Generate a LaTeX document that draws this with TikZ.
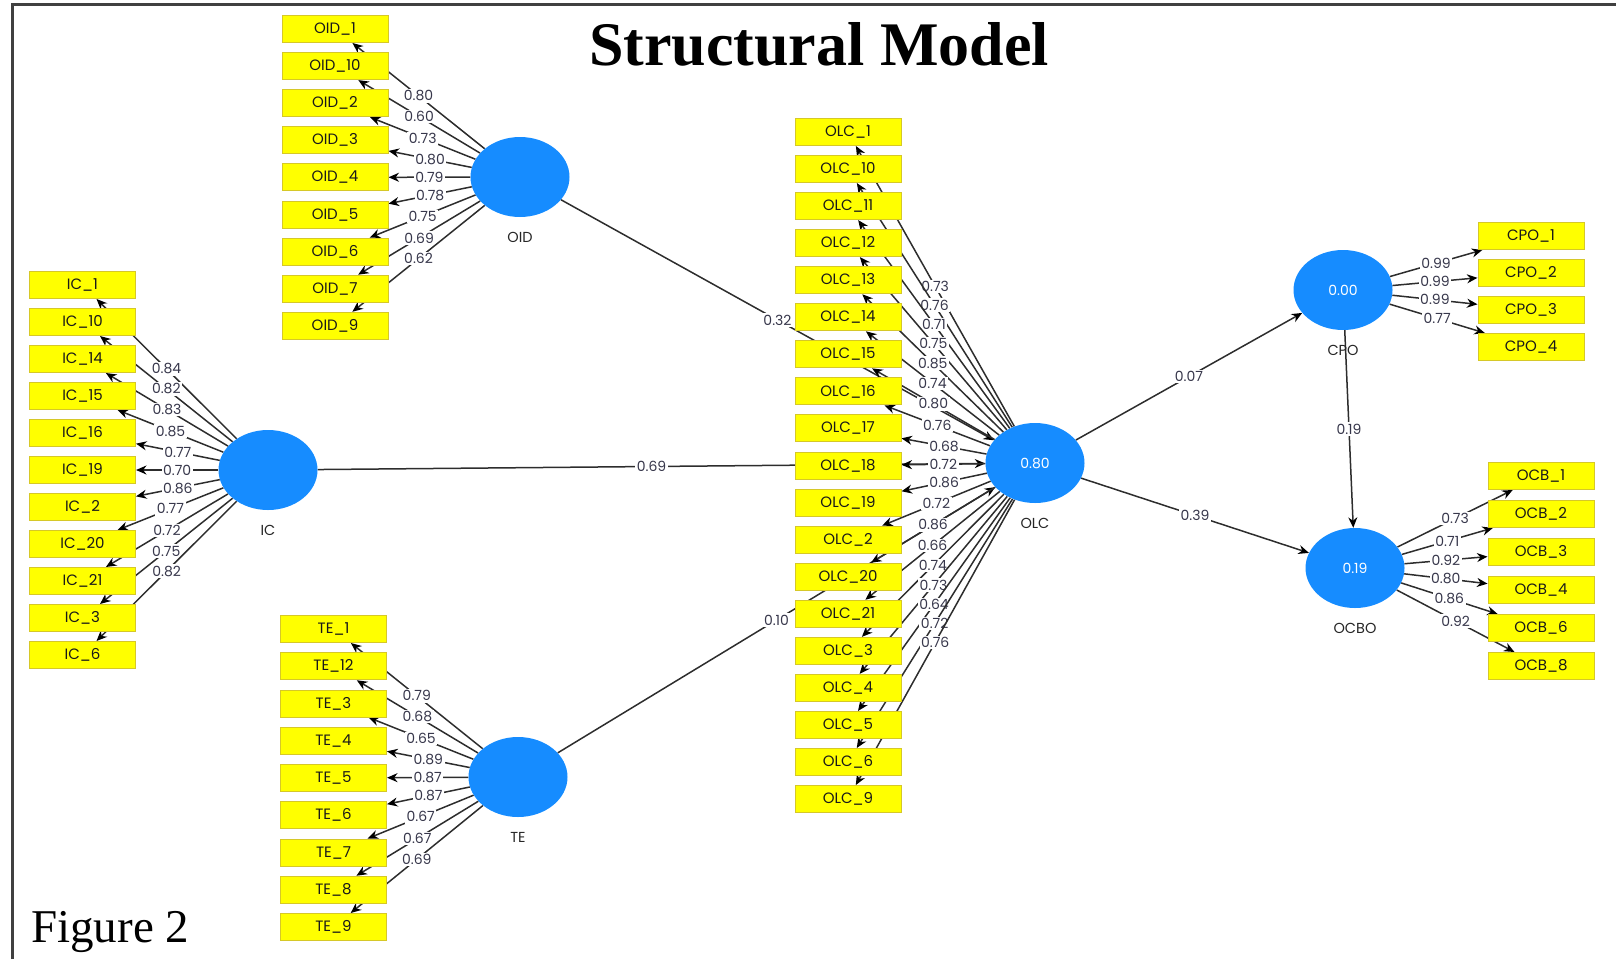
\documentclass[tikz,border=0pt]{standalone}
\usepackage{fontspec}
\setmainfont{Liberation Serif}
\newfontfamily\pfont{Poppins}
\usetikzlibrary{arrows.meta,shapes.geometric,backgrounds,positioning}
\definecolor{indyellow}{RGB}{255,255,0}
\definecolor{indborder}{RGB}{214,200,40}
\definecolor{latblue}{RGB}{22,140,255}
\definecolor{edgegray}{RGB}{45,45,45}
\definecolor{labgray}{RGB}{55,55,75}
\tikzset{
  indbox/.style={draw=indborder, fill=indyellow, line width=1pt, minimum width=106pt,
    minimum height=27pt, inner sep=0pt, text=black!90, font=\pfont\fontsize{15}{15}\selectfont},
  latent/.style={ellipse, fill=latblue, minimum width=99pt, minimum height=80pt,
    inner sep=0pt, text=white, font=\pfont\fontsize{14}{14}\selectfont},
  latname/.style={inner sep=0pt, text=black!85, font=\pfont\fontsize{14.5}{14.5}\selectfont},
  loadlab/.style={fill=white, inner sep=1.5pt, text=labgray, font=\pfont\fontsize{14}{14}\selectfont},
  arr/.style={draw=edgegray, line width=1.5pt, -{Stealth[length=10.5pt, width=9pt, color=black]}}
}

\begin{document}
\begin{tikzpicture}[x=1pt, y=-1pt]
    \useasboundingbox (0,0) rectangle (1616,959);
    % 结构模型
    \draw[line width=3pt, black!75] (12,959) -- (12,4) -- (1616,4);
    \node[anchor=base, font=\bfseries\fontsize{62}{62}\selectfont] (title) at (819,65) {Structural Model};
    \node[anchor=base west, inner sep=0pt, font=\fontsize{47}{47}\selectfont] (fig) at (31,942) {Figure 2};

    % 潜变量
    \node[latent] (OID) at (520,177) {};
    \node[latent] (IC) at (268,470) {};
    \node[latent] (TE) at (518,777) {};
    \node[latent] (OLC) at (1035,463) {0.80};
    \node[latent] (CPO) at (1343,290) {0.00};
    \node[latent] (OCBO) at (1355,568) {0.19};
    \node[latname, below=15pt of OID] (OIDname) {OID};
    \node[latname, below=15pt of IC] (ICname) {IC};
    \node[latname, below=15pt of TE] (TEname) {TE};
    \node[latname, below=15pt of OLC] (OLCname) {OLC};
    \node[latname, below=15pt of CPO] (CPOname) {CPO};
    \node[latname, below=15pt of OCBO] (OCBOname) {OCBO};

    % 路径系数
    \begin{scope}[on background layer]
        \draw[arr] (OID) -- (OLC) node[loadlab, midway] {0.32};
        \draw[arr] (IC) -- (OLC) node[loadlab, midway] {0.69};
        \draw[arr] (TE) -- (OLC) node[loadlab, midway] {0.10};
        \draw[arr] (OLC) -- (CPO) node[loadlab, midway] {0.07};
        \draw[arr] (OLC) -- (OCBO) node[loadlab, midway] {0.39};
        \draw[arr] (CPO) -- (OCBO) node[loadlab, midway] {0.19};
    \end{scope}

    % 测量指标与载荷
    \foreach \nm/\ld [count=\k from 0] in {1/0.80,10/0.60,2/0.73,3/0.80,4/0.79,5/0.78,6/0.75,7/0.69,9/0.62} {
        \node[indbox] (oid\nm) at (335,29+37.1*\k) {OID\_\nm};
        \begin{pgfonlayer}{background}
            \draw[arr] (OID) -- (oid\nm) node[loadlab, midway] {\ld};
        \end{pgfonlayer}
    }
    \foreach \nm/\ld [count=\k from 0] in {1/0.84,10/0.82,14/0.83,15/0.85,16/0.77,19/0.70,2/0.86,20/0.77,21/0.72,3/0.75,6/0.82} {
        \node[indbox] (ic\nm) at (82.5,285+37*\k) {IC\_\nm};
        \begin{pgfonlayer}{background}
            \draw[arr] (IC) -- (ic\nm) node[loadlab, midway] {\ld};
        \end{pgfonlayer}
    }
    \foreach \nm/\ld [count=\k from 0] in {1/0.79,12/0.68,3/0.65,4/0.89,5/0.87,6/0.87,7/0.67,8/0.67,9/0.69} {
        \node[indbox] (te\nm) at (333.5,629+37.25*\k) {TE\_\nm};
        \begin{pgfonlayer}{background}
            \draw[arr] (TE) -- (te\nm) node[loadlab, midway] {\ld};
        \end{pgfonlayer}
    }
    \foreach \nm/\ld [count=\k from 0] in {1/0.73,10/0.76,11/0.71,12/0.75,13/0.85,14/0.74,15/0.80,16/0.76,17/0.68,18/0.72,
                                           19/0.86,2/0.72,20/0.86,21/0.66,3/0.74,4/0.73,5/0.64,6/0.72,9/0.76} {
        \node[indbox] (olc\nm) at (848,132+37.06*\k) {OLC\_\nm};
        \begin{pgfonlayer}{background}
            \draw[arr] (OLC) -- (olc\nm) node[loadlab, midway] {\ld};
        \end{pgfonlayer}
    }
    \foreach \nm/\ld [count=\k from 0] in {1/0.99,2/0.99,3/0.99,4/0.77} {
        \node[indbox] (cpo\nm) at (1531,236+37*\k) {CPO\_\nm};
        \begin{pgfonlayer}{background}
            \draw[arr] (CPO) -- (cpo\nm) node[loadlab, midway] {\ld};
        \end{pgfonlayer}
    }
    \foreach \nm/\ld [count=\k from 0] in {1/0.73,2/0.71,3/0.92,4/0.80,6/0.86,8/0.92} {
        \node[indbox] (ocb\nm) at (1541,476+38*\k) {OCB\_\nm};
        \begin{pgfonlayer}{background}
            \draw[arr] (OCBO) -- (ocb\nm) node[loadlab, midway] {\ld};
        \end{pgfonlayer}
    }
\end{tikzpicture}
\end{document}
